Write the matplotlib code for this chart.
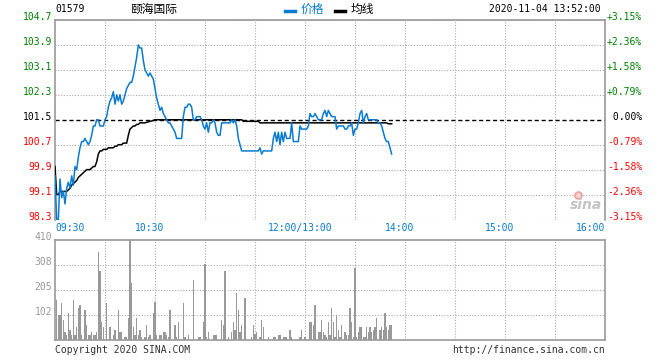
import matplotlib
matplotlib.use("Agg")
import matplotlib.pyplot as plt
from matplotlib.lines import Line2D

plt.rcParams['font.family'] = ['DejaVu Sans Mono', 'Noto Sans CJK SC']

# minute-by-minute data, 09:30 -> 13:52 (lunch break collapsed)
price = [
    99.7, 98.3, 98.3, 99.6, 99.0, 99.2, 98.8, 99.3, 99.5, 99.3,
    99.7, 99.4, 100.0, 99.9, 100.3, 100.6, 100.8, 100.8, 100.9, 100.8,
    100.7, 100.8, 101.0, 101.3, 101.3, 101.5, 101.5, 101.3, 101.3, 101.3,
    101.5, 101.6, 101.9, 102.1, 102.2, 102.4, 102.0, 102.3, 102.1, 102.3,
    102.0, 102.1, 102.3, 102.5, 102.6, 102.7, 102.7, 102.9, 103.2, 103.5,
    103.9, 103.8, 103.8, 103.4, 103.1, 103.0, 102.9, 103.0, 102.9, 102.8,
    102.5, 102.2, 102.0, 101.8, 101.9, 101.7, 101.6, 101.5, 101.4, 101.4,
    101.3, 101.2, 101.1, 100.9, 100.9, 100.9, 100.9, 101.6, 101.9, 101.9,
    102.0, 102.0, 101.9, 101.5, 101.5, 101.6, 101.6, 101.6, 101.5, 101.3,
    101.2, 101.4, 101.1, 101.4, 101.4, 101.5, 101.4, 101.1, 101.0, 101.0,
    101.4, 101.4, 101.4, 101.4, 101.4, 101.4, 101.5, 101.4, 101.5, 101.3,
    100.9, 100.7, 100.5, 100.5, 100.5, 100.5, 100.5, 100.5, 100.5, 100.5,
    100.5, 100.5, 100.5, 100.6, 100.4, 100.5, 100.5, 100.5, 100.5, 100.5,
    100.5, 100.9, 101.1, 100.8, 101.1, 100.7, 101.1, 100.8, 101.1, 100.9,
    100.9, 100.9, 101.4, 100.8, 100.8, 100.8, 100.8, 101.3, 101.2, 101.2,
    101.2, 101.2, 101.3, 101.7, 101.6, 101.6, 101.7, 101.6, 101.5, 101.5,
    101.5, 101.7, 101.8, 101.6, 101.8, 101.7, 101.6, 101.6, 101.6, 101.2,
    101.3, 101.3, 101.3, 101.3, 101.2, 101.2, 101.3, 101.3, 101.4, 101.0,
    101.2, 101.2, 101.4, 101.7, 101.8, 101.4, 101.6, 101.7, 101.5, 101.5,
    101.5, 101.5, 101.5, 101.5, 101.4, 101.4, 101.3, 101.1, 100.9, 100.8,
    100.8, 100.6, 100.4,
]

avg = [
    100.0, 99.1, 99.1, 99.2, 99.2, 99.2, 99.2, 99.2, 99.25, 99.3,
    99.4, 99.45, 99.5, 99.55, 99.65, 99.7, 99.75, 99.8, 99.85, 99.9,
    99.9, 99.9, 99.95, 100.0, 100.0, 100.15, 100.4, 100.5, 100.5, 100.55,
    100.55, 100.55, 100.6, 100.6, 100.6, 100.6, 100.65, 100.65, 100.7, 100.7,
    100.7, 100.75, 100.75, 100.75, 101.0, 101.2, 101.25, 101.3, 101.3, 101.35,
    101.35, 101.4, 101.4, 101.4, 101.4, 101.42, 101.43, 101.45, 101.46, 101.48,
    101.5, 101.5, 101.5, 101.5, 101.5, 101.5, 101.5, 101.5, 101.5, 101.5,
    101.5, 101.5, 101.5, 101.5, 101.5, 101.5, 101.5, 101.5, 101.5, 101.5,
    101.5, 101.5, 101.5, 101.5, 101.5, 101.5, 101.5, 101.5, 101.5, 101.5,
    101.5, 101.5, 101.5, 101.5, 101.5, 101.5, 101.5, 101.5, 101.5, 101.5,
    101.5, 101.5, 101.5, 101.5, 101.5, 101.5, 101.5, 101.5, 101.5, 101.5,
    101.5, 101.5, 101.5, 101.45, 101.45, 101.45, 101.45, 101.45, 101.45, 101.45,
    101.45, 101.45, 101.45, 101.4, 101.4, 101.4, 101.4, 101.4, 101.4, 101.4,
    101.4, 101.4, 101.4, 101.4, 101.4, 101.4, 101.4, 101.4, 101.4, 101.4,
    101.4, 101.4, 101.4, 101.4, 101.4, 101.4, 101.4, 101.4, 101.4, 101.4,
    101.4, 101.4, 101.4, 101.4, 101.4, 101.4, 101.4, 101.4, 101.4, 101.4,
    101.4, 101.4, 101.4, 101.4, 101.4, 101.4, 101.4, 101.4, 101.4, 101.4,
    101.4, 101.4, 101.4, 101.4, 101.4, 101.4, 101.4, 101.4, 101.4, 101.4,
    101.4, 101.4, 101.4, 101.4, 101.4, 101.4, 101.4, 101.4, 101.4, 101.4,
    101.4, 101.4, 101.4, 101.4, 101.4, 101.4, 101.4, 101.4, 101.4, 101.4,
    101.37, 101.37, 101.37,
]

volume = [
    0, 164, 102, 102, 153, 82, 33, 20, 112, 41,
    20, 164, 20, 55, 130, 143, 20, 0, 123, 61,
    20, 20, 33, 20, 20, 33, 361, 283, 74, 55,
    0, 153, 0, 52, 0, 20, 41, 0, 123, 33,
    33, 0, 12, 12, 90, 410, 235, 55, 20, 90,
    20, 41, 12, 0, 12, 61, 12, 20, 0, 112,
    156, 20, 0, 20, 20, 33, 33, 20, 12, 123,
    0, 0, 61, 12, 74, 0, 0, 153, 12, 0,
    20, 0, 0, 246, 0, 0, 12, 12, 0, 74,
    312, 12, 33, 0, 0, 20, 20, 20, 0, 0,
    82, 61, 283, 0, 12, 0, 33, 74, 41, 191,
    123, 33, 61, 0, 171, 0, 0, 0, 12, 61,
    25, 33, 0, 12, 82, 52, 0, 0, 12, 0,
    0, 12, 12, 0, 20, 20, 0, 12, 12, 12,
    0, 41, 12, 0, 0, 0, 0, 12, 41, 0,
    12, 5, 0, 74, 74, 61, 143, 0, 33, 33,
    82, 33, 20, 12, 74, 20, 131, 74, 12, 102,
    41, 12, 61, 0, 33, 20, 20, 131, 74, 12,
    295, 12, 33, 52, 52, 12, 12, 52, 33, 52,
    33, 41, 52, 90, 0, 41, 52, 41, 109, 52,
    41, 61, 61,
]

prev_close = 101.5
price_levels = [104.7, 103.9, 103.1, 102.3, 101.5, 100.7, 99.9, 99.1, 98.3]
pct_labels = ['+3.15%', '+2.36%', '+1.58%', '+0.79%', ' 0.00%',
              '-0.79%', '-1.58%', '-2.36%', '-3.15%']
vol_levels = [410, 308, 205, 102]
time_ticks = [0, 60, 150, 210, 270, 330]
time_labels = ['09:30', '10:30', '12:00/13:00', '14:00', '15:00', '16:00']

GREEN = '#008000'
RED = '#ff0000'
BLUE = '#0a7bd0'
GRID = '#aaaaaa'
FRAME = '#999999'

fig = plt.figure(figsize=(6.6, 3.6), dpi=100)
W, H = 660.0, 360.0
ax = fig.add_axes([55 / W, 1 - 219.5 / H, 550 / W, 199.5 / H])
axv = fig.add_axes([55 / W, 1 - 340 / H, 550 / W, 100 / H])

minutes = list(range(len(price)))

# price panel
ax.set_xlim(0, 330)
ax.set_ylim(98.3, 104.7)
for t in range(30, 330, 30):
    ax.axvline(t, color=GRID, lw=0.8, ls=(0, (1, 1.5)), zorder=1)
for v in price_levels:
    if v != prev_close:
        ax.axhline(v, color=GRID, lw=0.8, ls=(0, (1, 1.5)), zorder=1)
ax.axhline(prev_close, color='black', lw=1.0, ls=(0, (3, 2)), zorder=2)
ax.plot(minutes, avg, color='black', lw=1.1, zorder=3)
ax.plot(minutes, price, color=BLUE, lw=1.1, zorder=4)
ax.set_xticks([])
ax.set_yticks([])
for s in ['left', 'top', 'right']:
    ax.spines[s].set_color(FRAME)
    ax.spines[s].set_linewidth(1.2)
ax.spines['bottom'].set_visible(False)

for v, p in zip(price_levels, pct_labels):
    c = GREEN if v > prev_close else (RED if v < prev_close else 'black')
    ax.annotate(f'{v:.1f}', xy=(0, v), xycoords=('axes fraction', 'data'),
                xytext=(-3, 0), textcoords='offset pixels',
                ha='right', va='baseline', fontsize=7, color=c)
    ax.annotate(p, xy=(1, v), xycoords=('axes fraction', 'data'),
                xytext=(2, 0), textcoords='offset pixels',
                ha='left', va='baseline', fontsize=7, color=c)

for i, (t, lbl) in enumerate(zip(time_ticks, time_labels)):
    if i == 0:
        ha, dx = 'left', 0
    elif i == len(time_ticks) - 1:
        ha, dx = 'right', 0
    else:
        ha, dx = 'center', -5
    ax.annotate(lbl, xy=(t, 0), xycoords=('data', 'axes fraction'),
                xytext=(dx, -8), textcoords='offset pixels',
                ha=ha, va='center', fontsize=7, color=BLUE)

# sina watermark
ax.text(585 / W * W, 0, '', alpha=0)
fig.text(586 / W, 1 - 205 / H, 'sina', ha='center', va='center',
         fontsize=10, fontstyle='italic', fontweight='bold', color='#c4c4c4',
         family='DejaVu Sans', zorder=2)
fig.add_artist(Line2D([578 / W], [1 - 195 / H], marker='o', ms=5, mfc='#f8d0d0',
                      mec='#f0a0a0', mew=1.2, ls='none'))

# volume panel
axv.set_xlim(0, 330)
axv.set_ylim(0, 410)
for t in range(30, 330, 30):
    axv.axvline(t, color=GRID, lw=0.8, ls=(0, (1, 1.5)), zorder=1)
for v in vol_levels[1:]:
    axv.axhline(v, color=GRID, lw=0.8, ls=(0, (1, 1.5)), zorder=1)
axv.bar(minutes, volume, width=0.7, color='#999999', zorder=2)
axv.set_xticks([])
axv.set_yticks([])
for s in axv.spines.values():
    s.set_color(FRAME)
    s.set_linewidth(1.2)
for v in vol_levels:
    axv.annotate(str(v), xy=(0, v), xycoords=('axes fraction', 'data'),
                 xytext=(-3, 0), textcoords='offset pixels',
                 ha='right', va='baseline', fontsize=7, color='#999999')

# header
fig.text(55 / W, 1 - 9 / H, '01579', ha='left', va='center', fontsize=7, color='black')
fig.text(130 / W, 1 - 9 / H, '颐海国际', ha='left', va='center', fontsize=8.5,
         color='black', family='Noto Sans CJK SC')
fig.add_artist(Line2D([285 / W, 295 / W], [1 - 11 / H, 1 - 11 / H], color=BLUE, lw=2.5))
fig.text(301 / W, 1 - 9 / H, '价格', ha='left', va='center', fontsize=8.5,
         color=BLUE, family='Noto Sans CJK SC')
fig.add_artist(Line2D([335 / W, 345 / W], [1 - 11 / H, 1 - 11 / H], color='black', lw=2.5))
fig.text(351 / W, 1 - 9 / H, '均线', ha='left', va='center', fontsize=8.5,
         color='black', family='Noto Sans CJK SC')
fig.text(601 / W, 1 - 9 / H, '2020-11-04 13:52:00', ha='right', va='center',
         fontsize=7, color='black')

# footer
fig.text(55 / W, 1 - 350 / H, 'Copyright 2020 SINA.COM', ha='left', va='center',
         fontsize=7, color='#333333')
fig.text(605 / W, 1 - 350 / H, 'http://finance.sina.com.cn', ha='right', va='center',
         fontsize=7, color='#333333')

fig.savefig('out.png', dpi=100)
